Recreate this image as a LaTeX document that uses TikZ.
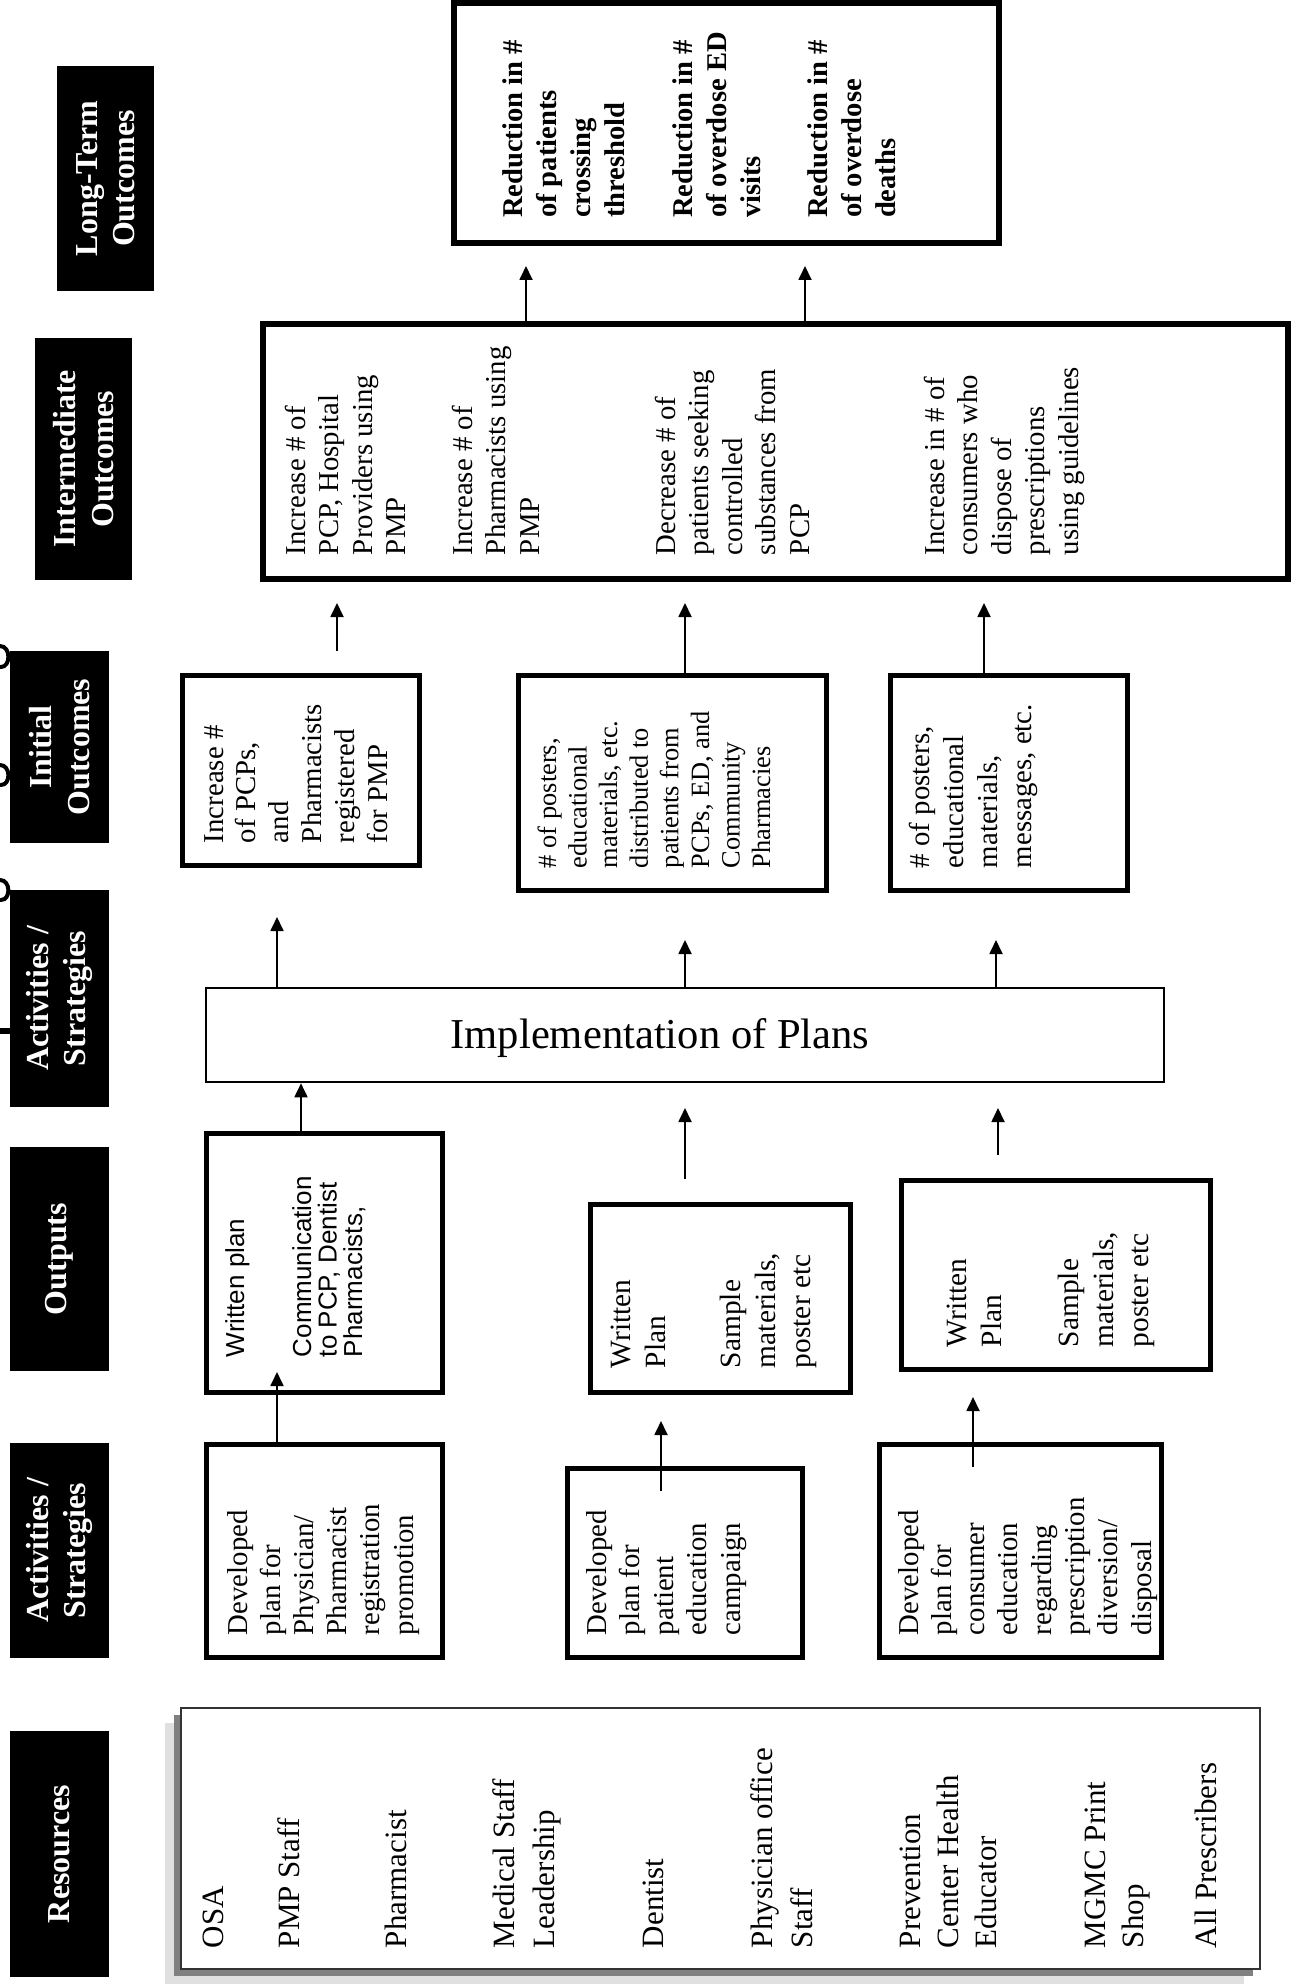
\documentclass[tikz,border=0pt]{standalone}
\usepackage{fontspec}
\setmainfont{Liberation Serif}
\newfontfamily\arialf{Liberation Sans}
\usetikzlibrary{arrows.meta}

\newcommand\fbody{\fontsize{14.4pt}{16pt}\selectfont}
\newcommand\fsmall{\fontsize{13.2pt}{15pt}\selectfont}
\newcommand\fout{\fontsize{14.7pt}{16pt}\selectfont}
\newcommand\fres{\fontsize{15.5pt}{18pt}\selectfont}
\newcommand\flt{\bfseries\fontsize{14.3pt}{16pt}\selectfont}
\newcommand\fsans{\arialf\fontsize{13pt}{15pt}\selectfont}
\newcommand\fhdr{\bfseries\fontsize{16pt}{18.75pt}\selectfont}
\newcommand\fimpl{\fontsize{21.3pt}{24pt}\selectfont}

% #1 name, #2 font, #3 x of first baseline, #4 y of text start, #5 line step, #6 lines
\newcommand\tlines[6]{%
  \foreach \tx [count=\i from 0] in {#6}{%
    \node[tl, font=#2, anchor=base west] (#1-\i) at ({#3+\i*#5},#4) {\tx};
  }}

\begin{document}
\begin{tikzpicture}[x=0.5pt, y=-0.5pt,
  tl/.style={rotate=90, inner sep=0pt, outer sep=0pt},
  hdr/.style={fill=black, text=white, font=\fhdr, align=center, inner sep=0pt, rotate=90},
  box/.style={draw=black, line width=2.2pt, inner sep=0pt},
  bigbox/.style={draw=black, line width=3pt, inner sep=0pt},
  thinbox/.style={draw=black, line width=1.3pt, inner sep=0pt},
  arr/.style={-{Triangle[length=7pt,width=6.5pt]}, line width=0.9pt},
  frag/.style={line width=2pt, line cap=round},
]
\useasboundingbox (0,0) rectangle (1291,1984);

% ---------- cut-off title fragments at the left edge ----------
\draw[frag] (0,646) .. controls (11,646) and (11,667) .. (1,667);
\draw[frag] (0,765) .. controls (11,765) and (11,785) .. (1,785);
\draw[frag] (0,880) .. controls (11,880) and (11,900) .. (1,900);
\draw[line width=2.6pt] (0,1031) -- (13,1031);

% ---------- column headers ----------
\node[hdr, minimum width=112.5pt, minimum height=48.5pt] (h-lt) at (105.5,178.5) {Long-Term\\Outcomes};
\node[hdr, minimum width=121pt, minimum height=48.5pt] (h-im) at (83.5,459) {Intermediate\\Outcomes};
\node[hdr, minimum width=96pt, minimum height=49.5pt] (h-in) at (59.5,747) {Initial\\Outcomes};
\node[hdr, minimum width=108.5pt, minimum height=49.5pt] (h-as1) at (59.5,998.5) {Activities /\\Strategies};
\node[hdr, minimum width=112pt, minimum height=49.5pt] (h-out) at (59.5,1259) {Outputs};
\node[hdr, minimum width=107.5pt, minimum height=49.5pt] (h-as2) at (59.5,1550.5) {Activities /\\Strategies};
\node[hdr, minimum width=123pt, minimum height=49.5pt] (h-res) at (59.5,1854) {Resources};

% ---------- boxes ----------
\node[bigbox, minimum width=272.5pt, minimum height=120pt] (lt) at (726.5,123) {};
\node[bigbox, minimum width=512.5pt, minimum height=127.5pt] (im) at (775.5,451.5) {};
\node[box, minimum width=118.5pt, minimum height=95pt] (inA) at (301,770.5) {};
\node[box, minimum width=154pt, minimum height=107.5pt] (inB) at (672.5,783) {};
\node[box, minimum width=118.5pt, minimum height=107.5pt] (inC) at (1009,783) {};
\node[thinbox, minimum width=479pt, minimum height=47pt] (impl) at (685,1035) {};
\node[box, minimum width=118pt, minimum height=129.5pt] (outD) at (324.5,1263) {};
\node[box, minimum width=130pt, minimum height=94pt] (outE) at (720.5,1298.5) {};
\node[box, minimum width=154.5pt, minimum height=94.5pt] (outF) at (1056,1275) {};
\node[box, minimum width=118pt, minimum height=106.5pt] (actI) at (324.5,1551) {};
\node[box, minimum width=117.5pt, minimum height=94.5pt] (actJ) at (685,1563) {};
\node[box, minimum width=141pt, minimum height=106.5pt] (actK) at (1020.5,1551) {};

% resources box with shadow
\fill[black!12] (165,1723) rectangle (1244,1984);
\fill[black!50] (174,1715) rectangle (1253,1976);
\node[draw=black!80, fill=white, line width=1pt, minimum width=539.5pt, minimum height=130.5pt, inner sep=0pt] (res) at (720.5,1838.5) {};

% ---------- texts ----------
\tlines{lt1}{\flt}{522}{218}{34}{Reduction in \#, of patients, crossing, threshold}
\tlines{lt2}{\flt}{692}{218}{34}{Reduction in \#, of overdose ED, visits}
\tlines{lt3}{\flt}{827}{218}{34}{Reduction in \#, of overdose, deaths}

\tlines{im1}{\fbody}{305}{555}{33.5}{Increase \# of, {PCP, Hospital}, Providers using, PMP}
\tlines{im2}{\fbody}{472}{555}{33.5}{Increase \# of, Pharmacists using, PMP}
\tlines{im3}{\fbody}{675}{555}{33.5}{Decrease \# of, patients seeking, controlled, substances from, PCP}
\tlines{im4}{\fbody}{944}{555}{33.5}{Increase in \# of, consumers who, dispose of, prescriptions, using guidelines}

\tlines{inA}{\fbody}{223}{843}{32.8}{Increase \#, {of PCPs,}, and, Pharmacists, registered, for PMP}
\tlines{inB}{\fsmall}{556}{868}{30.6}{{\# of posters,}, educational, {materials, etc.}, distributed to, patients from, {PCPs, ED, and}, Community, Pharmacies}
\tlines{inC}{\fbody}{929}{868}{34}{{\# of posters,}, educational, {materials,}, {messages, etc.}}

\node[font=\fimpl, anchor=base, inner sep=0pt] (impl-t) at (660,1048) {Implementation of Plans};

\tlines{outD1}{\fsans}{244}{1357}{25.5}{Written plan}
\tlines{outD2}{\fsans}{311}{1357}{25.5}{Communication, {to PCP, Dentist}, {Pharmacists,}}
\tlines{outE1}{\fout}{630}{1368}{35}{Written, Plan}
\tlines{outE2}{\fout}{740}{1368}{35}{Sample, {materials,}, poster etc}
\tlines{outF1}{\fout}{966}{1347}{35}{Written, Plan}
\tlines{outF2}{\fout}{1078}{1347}{35}{Sample, {materials,}, poster etc}

\tlines{actI}{\fbody}{247}{1635}{33.2}{Developed, plan for, Physician/, Pharmacist, registration, promotion}
\tlines{actJ}{\fbody}{606}{1635}{33.5}{Developed, plan for, patient, education, campaign}
\tlines{actK}{\fbody}{918}{1635}{33.3}{Developed, plan for, consumer, education, regarding, prescription, diversion/, disposal}

\tlines{r1}{\fres}{223}{1948}{39}{OSA}
\tlines{r2}{\fres}{299}{1948}{39}{PMP Staff}
\tlines{r3}{\fres}{406}{1948}{39}{Pharmacist}
\tlines{r4}{\fres}{514}{1948}{40}{Medical Staff, Leadership}
\tlines{r5}{\fres}{663}{1948}{39}{Dentist}
\tlines{r6}{\fres}{772}{1948}{40}{Physician office, Staff}
\tlines{r7}{\fres}{920}{1948}{38}{Prevention, Center Health, Educator}
\tlines{r8}{\fres}{1105}{1948}{38}{MGMC Print, Shop}
\tlines{r9}{\fres}{1216}{1948}{39}{All Prescribers}

% ---------- connectors ----------
\coordinate (t-lt1) at (526,266);
\coordinate (t-lt2) at (805,266);
\draw[arr] (im.north -| t-lt1) -- (t-lt1);
\draw[arr] (im.north -| t-lt2) -- (t-lt2);

\coordinate (s-in1) at (337,651);
\coordinate (t-in1) at (337,603);
\coordinate (t-in2) at (685,603);
\coordinate (t-in3) at (984,603);
\draw[arr] (s-in1) -- (t-in1);
\draw[arr] (inB.north -| t-in2) -- (t-in2);
\draw[arr] (inC.north -| t-in3) -- (t-in3);

\coordinate (t-im1) at (277,917);
\coordinate (t-im2) at (685,940);
\coordinate (t-im3) at (996,940);
\draw[arr] (impl.north -| t-im1) -- (t-im1);
\draw[arr] (impl.north -| t-im2) -- (t-im2);
\draw[arr] (impl.north -| t-im3) -- (t-im3);

\coordinate (x-o1) at (301,1083);
\coordinate (s-o2) at (685,1179);
\coordinate (t-o2) at (685,1108);
\coordinate (s-o3) at (998,1155);
\coordinate (t-o3) at (998,1108);
\draw[arr] (outD.north -| x-o1) -- (impl.south -| x-o1);
\draw[arr] (s-o2) -- (t-o2);
\draw[arr] (s-o3) -- (t-o3);

\coordinate (t-a1) at (277,1372);
\coordinate (s-a2) at (661,1491);
\coordinate (t-a2) at (661,1421);
\coordinate (s-a3) at (973,1467);
\coordinate (t-a3) at (973,1397);
\draw[arr] (actI.north -| t-a1) -- (t-a1);
\draw[arr] (s-a2) -- (t-a2);
\draw[arr] (s-a3) -- (t-a3);

\end{tikzpicture}
\end{document}
